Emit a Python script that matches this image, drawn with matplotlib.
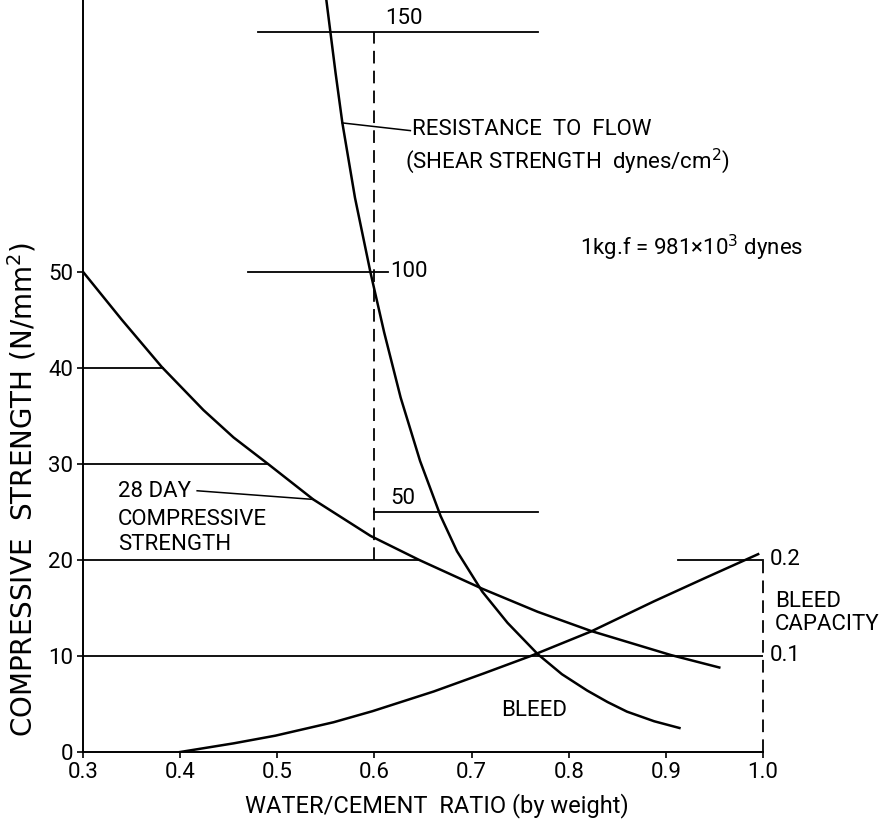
import numpy as np
import matplotlib
matplotlib.use("Agg")
import matplotlib.pyplot as plt

plt.rcParams['font.family'] = ['Roboto', 'DejaVu Sans']

# ---- data ----
# 28-day compressive strength (N/mm^2) vs water/cement ratio
comp_x = [0.30, 0.34, 0.381, 0.424, 0.455, 0.491, 0.537, 0.596, 0.646, 0.711, 0.768, 0.823, 0.905, 0.955]
comp_y = [50.0, 45.0, 40.1, 35.6, 32.75, 29.95, 26.3, 22.5, 20.0, 17.0, 14.6, 12.6, 10.1, 8.8]

# resistance to flow (plotted on the compressive axis; shear scale = 2 x axis value)
res_x = [0.549, 0.554, 0.560, 0.567, 0.580, 0.596, 0.610, 0.627, 0.647, 0.668, 0.685,
         0.711, 0.737, 0.768, 0.793, 0.819, 0.840, 0.860, 0.888, 0.914]
res_y = [79.5, 75.5, 70.7, 65.5, 57.7, 49.9, 43.7, 36.9, 30.3, 24.6, 20.9,
         16.7, 13.45, 10.2, 8.1, 6.4, 5.2, 4.2, 3.2, 2.5]

# bleed (plotted on compressive axis; bleed capacity scale = axis value / 100)
bleed_x = [0.40, 0.455, 0.498, 0.558, 0.598, 0.661, 0.713, 0.761, 0.823, 0.888, 0.940, 0.995]
bleed_y = [0.0, 0.9, 1.7, 3.1, 4.25, 6.3, 8.2, 10.0, 12.55, 15.7, 18.1, 20.6]

x_ticks = [0.3, 0.4, 0.5, 0.6, 0.7, 0.8, 0.9, 1.0]
x_ticklabels = ["0.3", "0.4", "0.5", "0.6", "0.7", "0.8", "0.9", "1.0"]
y_ticks = [0, 10, 20, 30, 40, 50]
y_ticklabels = ["0", "10", "20", "30", "40", "50"]

comp_levels = [20, 30, 40]          # horizontal guide lines to the strength curve
shear_ticks = [50, 100, 150]        # dynes/cm^2
shear_labels = ["50", "100", "150"]
bleed_cap_ticks = [0.1, 0.2]
bleed_cap_labels = ["0.1", "0.2"]

shear_scale = 0.5     # axis units per dyne/cm^2
bleed_scale = 100.0   # axis units per bleed capacity unit

# ---- figure ----
fig = plt.figure(figsize=(8.84, 8.26), dpi=100)
ax = fig.add_axes([83 / 884, 74 / 826, 680 / 884, 752 / 826])
ax.set_xlim(0.3, 1.0)
ax.set_ylim(0, 78.3)

for s in ['top', 'right']:
    ax.spines[s].set_visible(False)
for s in ['left', 'bottom']:
    ax.spines[s].set_linewidth(1.4)

ax.set_xticks(x_ticks)
ax.set_xticklabels(x_ticklabels)
ax.set_yticks(y_ticks)
ax.set_yticklabels(y_ticklabels)
ax.tick_params(axis='both', direction='out', length=4, width=1.2, labelsize=16, pad=3)

lw_curve = 1.8
lw_line = 1.3
k = 'black'

# curves
ax.plot(comp_x, comp_y, color=k, lw=lw_curve, solid_joinstyle='round')
ax.plot(res_x, res_y, color=k, lw=lw_curve, solid_joinstyle='round')
ax.plot(bleed_x, bleed_y, color=k, lw=lw_curve, solid_joinstyle='round')

# horizontal guide lines for compressive strength
ax.plot([0.3, 1.0], [10, 10], color=k, lw=lw_line)
cx_rev = comp_x[::-1]
cy_rev = comp_y[::-1]
for lev in comp_levels:
    xe = np.interp(lev, cy_rev, cx_rev)
    ax.plot([0.3, xe], [lev, lev], color=k, lw=lw_line)

# shear strength scale at x = 0.6
sy = [v * shear_scale for v in shear_ticks]
ax.plot([0.6, 0.6], [20, sy[2]], color=k, lw=lw_line, ls=(0, (7, 4)))
ax.plot([0.6, 0.768], [sy[0], sy[0]], color=k, lw=lw_line)
ax.plot([0.47, 0.614], [sy[1], sy[1]], color=k, lw=lw_line)
ax.plot([0.48, 0.768], [sy[2], sy[2]], color=k, lw=lw_line)
ax.text(0.616, sy[0] + 0.3, shear_labels[0], fontsize=16, ha='left', va='bottom')
ax.text(0.616, sy[1], shear_labels[1], fontsize=16, ha='left', va='center')
ax.text(0.611, sy[2] + 0.3, shear_labels[2], fontsize=16, ha='left', va='bottom')

# bleed capacity scale at x = 1.0
by = [v * bleed_scale for v in bleed_cap_ticks]
ax.plot([1.0, 1.0], [0, 20.6], color=k, lw=lw_line, ls=(0, (7, 4)), clip_on=False)
ax.plot([0.912, 1.0], [by[1], by[1]], color=k, lw=lw_line, clip_on=False)
for yv, lab in zip(by, bleed_cap_labels):
    ax.text(1.007, yv, lab, fontsize=16, ha='left', va='center')
ax.text(1.012, 15.7, "BLEED", fontsize=16, ha='left', va='center')
ax.text(1.012, 13.3, "CAPACITY", fontsize=16, ha='left', va='center')

# annotations
ax.plot([0.567, 0.637], [65.5, 64.7], color=k, lw=1.1)
ax.text(0.639, 64.8, "RESISTANCE  TO  FLOW", fontsize=16, ha='left', va='center')
ax.text(0.631, 61.5, "(SHEAR STRENGTH  dynes/cm$^2$)", fontsize=16, ha='left', va='center')
ax.text(0.812, 52.5, "1kg.f = 981\u00d710$^3$ dynes", fontsize=16, ha='left', va='center')

ax.plot([0.4175, 0.537], [27.2, 26.3], color=k, lw=1.1)
ax.text(0.336, 27.1, "28 DAY", fontsize=16, ha='left', va='center')
ax.text(0.336, 24.2, "COMPRESSIVE", fontsize=16, ha='left', va='center')
ax.text(0.336, 21.6, "STRENGTH", fontsize=16, ha='left', va='center')

ax.text(0.730, 4.3, "BLEED", fontsize=16, ha='left', va='center')

# axis labels
fig.text(22 / 884, 1 - 489 / 826, "COMPRESSIVE  STRENGTH (N/mm$^2$)", fontsize=20,
         family=['DejaVu Sans'], rotation=90, ha='center', va='center')
fig.text(437 / 884, 1 - 806 / 826, "WATER/CEMENT  RATIO (by weight)", fontsize=17,
         ha='center', va='center')

fig.savefig("out.png", dpi=100)
